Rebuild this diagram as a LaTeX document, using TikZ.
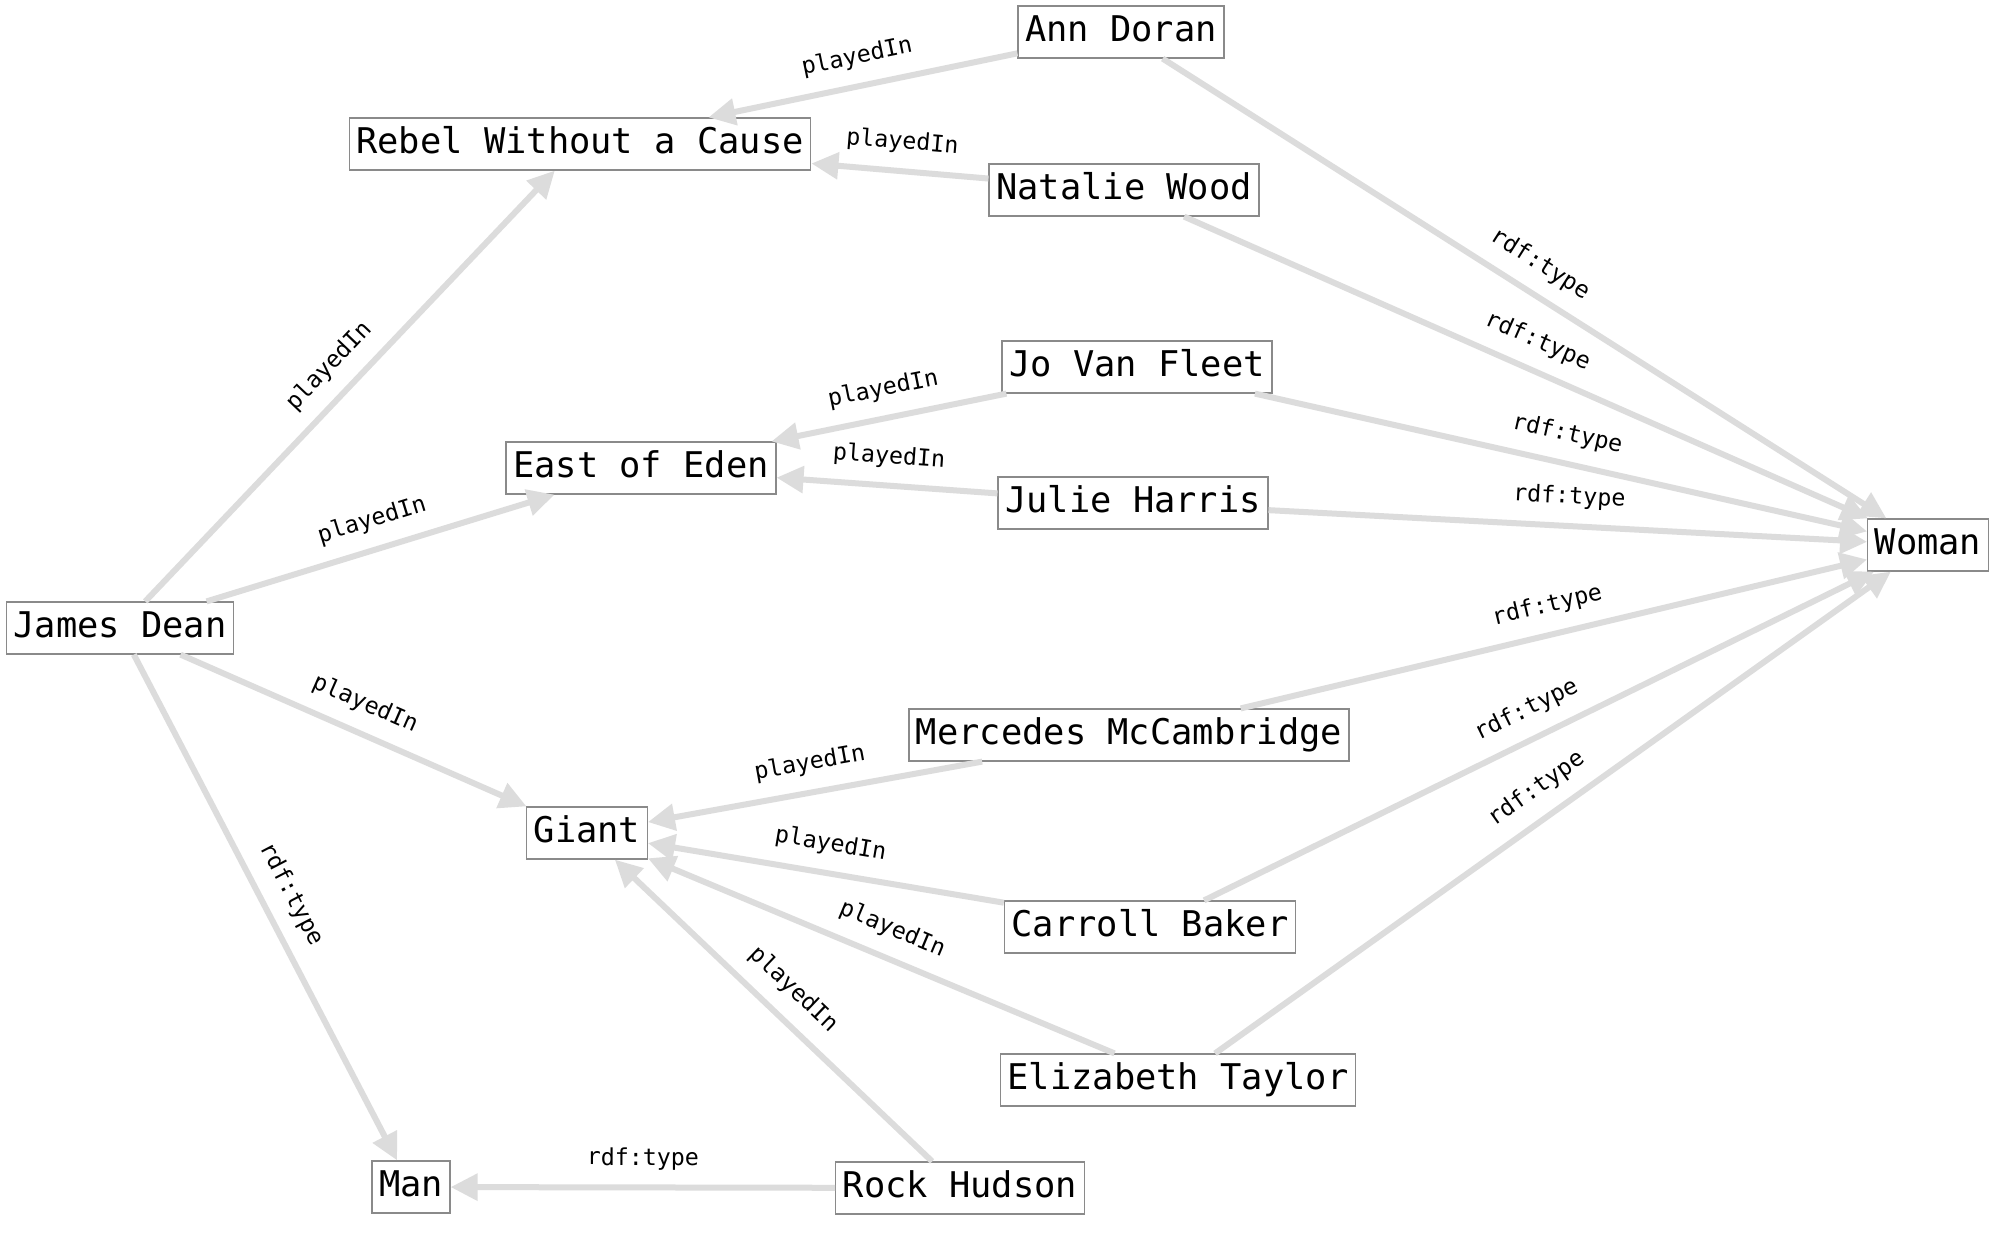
\documentclass[tikz,border=0pt]{standalone}
\usepackage{fontspec}
\setmonofont{DejaVu Sans Mono}
\usetikzlibrary{arrows.meta}
\definecolor{edgegray}{HTML}{DCDCDC}
\definecolor{boxgray}{HTML}{8A8A8A}
\tikzset{
  ent/.style={draw=boxgray, line width=1.3pt, fill=white, rectangle,
    font=\ttfamily\fontsize{35.4pt}{42pt}\selectfont,
    inner xsep=7pt, inner ysep=8.2pt, text height=27pt, text depth=8.5pt},
  rel/.style={draw=edgegray, line width=6pt,
    -{Triangle[length=27pt,width=26pt]}},
  lab/.style={midway, sloped, above=14.5pt, inner sep=0pt,
    font=\ttfamily\fontsize{23.3pt}{28pt}\selectfont, text=black}
}
\begin{document}
\begin{tikzpicture}[x=1pt,y=-1pt]
\useasboundingbox (0,0) rectangle (2000,1240);
\fill[white] (0,0) rectangle (2000,1240);

% edges first (behind nodes)
\path
  (1121,32)  coordinate (cann)
  (580,144)  coordinate (crebel)
  (1124,190) coordinate (cnatalie)
  (1137,367) coordinate (cjo)
  (641,468)  coordinate (ceden)
  (1133,503) coordinate (cjulie)
  (1928,545) coordinate (cwoman)
  (120,628)  coordinate (cjames)
  (1129,735) coordinate (cmercedes)
  (587,833)  coordinate (cgiant)
  (1150,927) coordinate (ccarroll)
  (1178,1080) coordinate (celizabeth)
  (411,1187) coordinate (cman)
  (960,1188) coordinate (crock);

\node[ent] (ann) at (cann) {Ann Doran};
\node[ent] (rebel) at (crebel) {Rebel Without a Cause};
\node[ent] (natalie) at (cnatalie) {Natalie Wood};
\node[ent] (jo) at (cjo) {Jo Van Fleet};
\node[ent] (eden) at (ceden) {East of Eden};
\node[ent] (julie) at (cjulie) {Julie Harris};
\node[ent] (woman) at (cwoman) {Woman};
\node[ent] (james) at (cjames) {James Dean};
\node[ent] (mercedes) at (cmercedes) {Mercedes McCambridge};
\node[ent] (giant) at (cgiant) {Giant};
\node[ent] (carroll) at (ccarroll) {Carroll Baker};
\node[ent] (elizabeth) at (celizabeth) {Elizabeth Taylor};
\node[ent] (man) at (cman) {Man};
\node[ent] (rock) at (crock) {Rock Hudson};

% playedIn
\draw[rel] (james) -- (rebel) node[lab] {playedIn};
\draw[rel] (james) -- (eden) node[lab] {playedIn};
\draw[rel] (james) -- (giant) node[lab] {playedIn};
\draw[rel] (ann) -- (rebel) node[lab] {playedIn};
\draw[rel] (natalie) -- (rebel) node[lab] {playedIn};
\draw[rel] (jo) -- (eden) node[lab] {playedIn};
\draw[rel] (julie) -- (eden) node[lab] {playedIn};
\draw[rel] (mercedes) -- (giant) node[lab] {playedIn};
\draw[rel] (carroll) -- (giant) node[lab] {playedIn};
\draw[rel] (elizabeth) -- (giant) node[lab] {playedIn};
\draw[rel] (rock) -- (giant) node[lab] {playedIn};
% rdf:type
\draw[rel] (james) -- (man) node[lab] {rdf:type};
\draw[rel] (rock) -- (man) node[lab] {rdf:type};
\draw[rel] (ann) -- (woman) node[lab] {rdf:type};
\draw[rel] (natalie) -- (woman) node[lab] {rdf:type};
\draw[rel] (jo) -- (woman) node[lab] {rdf:type};
\draw[rel] (julie) -- (woman) node[lab] {rdf:type};
\draw[rel] (mercedes) -- (woman) node[lab] {rdf:type};
\draw[rel] (carroll) -- (woman) node[lab] {rdf:type};
\draw[rel] (elizabeth) -- (woman) node[lab] {rdf:type};
\end{tikzpicture}
\end{document}
